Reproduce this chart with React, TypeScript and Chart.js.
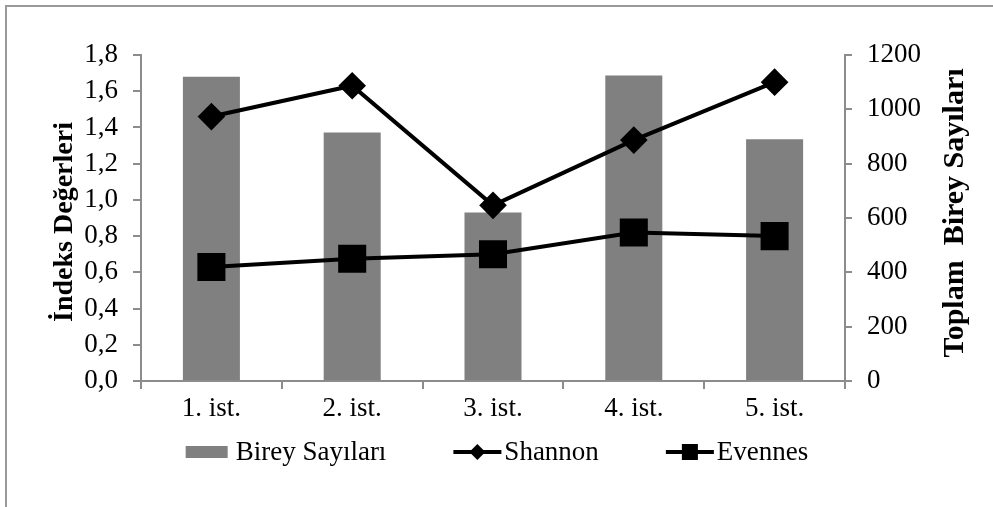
import React, { useEffect, useRef } from "react";
import { Chart, registerables } from "chart.js";

Chart.register(...registerables);

const categories = ["1. ist.", "2. ist.", "3. ist.", "4. ist.", "5. ist."];
const bireySayilari = [1120, 915, 620, 1125, 890];
const shannon = [1.46, 1.63, 0.97, 1.33, 1.65];
const evennes = [0.63, 0.675, 0.7, 0.82, 0.8];

const leftTitle = "İndeks Değerleri";
const rightTitle = "Toplam  Birey Sayıları";
const legendLabels = ["Birey Sayıları", "Shannon", "Evennes"];

const FONT = "'Liberation Serif', 'Times New Roman', serif";
const AXIS_COLOR = "#8c8c8c";
const BAR_COLOR = "#808080";

const titlesPlugin = {
  id: "axisTitles",
  afterDraw(chart: any) {
    const { ctx, chartArea } = chart;
    const cy = (chartArea.top + chartArea.bottom) / 2;
    ctx.save();
    ctx.fillStyle = "#000";
    ctx.font = `bold 28px ${FONT}`;
    ctx.textAlign = "center";
    ctx.textBaseline = "middle";
    ctx.translate(chartArea.left - 76, cy + 4);
    ctx.rotate(-Math.PI / 2);
    ctx.fillText(leftTitle, 0, 0);
    ctx.restore();

    ctx.save();
    ctx.fillStyle = "#000";
    ctx.font = `bold 30px ${FONT}`;
    ctx.textAlign = "center";
    ctx.textBaseline = "middle";
    ctx.translate(chartArea.right + 110, cy - 5);
    ctx.rotate(-Math.PI / 2);
    ctx.fillText(rightTitle, 0, 0);
    ctx.restore();
  },
};

const legendPlugin = {
  id: "customLegend",
  afterDraw(chart: any) {
    const { ctx, chartArea } = chart;
    const y = chartArea.bottom + 71;
    ctx.save();
    ctx.font = `27px ${FONT}`;
    ctx.textBaseline = "middle";
    ctx.textAlign = "left";
    const swatchW = [42, 48, 48];
    const textGap = [8, 3, 3];
    const itemGap = 67;
    const widths = legendLabels.map((l) => ctx.measureText(l).width);
    let total = 0;
    for (let i = 0; i < 3; i++) total += swatchW[i] + textGap[i] + widths[i];
    total += itemGap * 2;
    let x = (chartArea.left + chartArea.right) / 2 + 4 - total / 2;
    for (let i = 0; i < 3; i++) {
      if (i === 0) {
        ctx.fillStyle = BAR_COLOR;
        ctx.fillRect(x, y - 6, swatchW[i], 12);
      } else {
        ctx.strokeStyle = "#000";
        ctx.lineWidth = 4;
        ctx.beginPath();
        ctx.moveTo(x, y);
        ctx.lineTo(x + swatchW[i], y);
        ctx.stroke();
        ctx.fillStyle = "#000";
        const cx = x + swatchW[i] / 2;
        if (i === 1) {
          ctx.beginPath();
          ctx.moveTo(cx - 8, y);
          ctx.lineTo(cx, y - 8);
          ctx.lineTo(cx + 8, y);
          ctx.lineTo(cx, y + 8);
          ctx.closePath();
          ctx.fill();
        } else {
          ctx.fillRect(cx - 8, y - 8, 16, 16);
        }
      }
      x += swatchW[i] + textGap[i];
      ctx.fillStyle = "#000";
      ctx.fillText(legendLabels[i], x, y + 1);
      x += widths[i] + itemGap;
    }
    ctx.restore();
  },
};

export default function App() {
  const canvasRef = useRef<HTMLCanvasElement | null>(null);

  useEffect(() => {
    if (!canvasRef.current) return;
    const gridCommon = {
      drawOnChartArea: false,
      drawTicks: true,
      color: AXIS_COLOR,
      lineWidth: 2,
    };
    const chart = new Chart(canvasRef.current, {
      type: "bar",
      data: {
        labels: categories,
        datasets: [
          {
            type: "line",
            label: "Shannon",
            data: shannon,
            yAxisID: "y",
            borderColor: "#000",
            backgroundColor: "#000",
            borderWidth: 4,
            pointStyle: "rectRot",
            pointRadius: 11,
            pointBackgroundColor: "#000",
            pointBorderColor: "#000",
            order: 1,
            clip: false,
          } as any,
          {
            type: "line",
            label: "Evennes",
            data: evennes,
            yAxisID: "y",
            borderColor: "#000",
            backgroundColor: "#000",
            borderWidth: 4,
            pointStyle: "rect",
            pointRadius: 17,
            pointBackgroundColor: "#000",
            pointBorderColor: "#000",
            order: 0,
            clip: false,
          } as any,
          {
            type: "bar",
            label: "Birey Sayıları",
            data: bireySayilari,
            yAxisID: "y1",
            backgroundColor: BAR_COLOR,
            borderWidth: 0,
            categoryPercentage: 1,
            barPercentage: 0.405,
            order: 2,
          } as any,
        ],
      },
      options: {
        animation: false,
        responsive: false,
        maintainAspectRatio: false,
        layout: { padding: { top: 55, left: 0, right: 0, bottom: 0 } },
        plugins: {
          legend: { display: false },
          tooltip: { enabled: false },
        },
        scales: {
          x: {
            offset: true,
            grid: { ...gridCommon, offset: true, tickLength: 8 },
            border: { color: AXIS_COLOR, width: 2 },
            ticks: {
              color: "#000",
              font: { family: FONT, size: 27 },
              padding: 4,
              maxRotation: 0,
            },
            afterFit: (scale: any) => {
              scale.height = 126;
            },
          },
          y: {
            position: "left",
            min: 0,
            max: 1.8,
            grid: { ...gridCommon, tickLength: 8 },
            border: { color: AXIS_COLOR, width: 2 },
            ticks: {
              stepSize: 0.2,
              color: "#000",
              font: { family: FONT, size: 27 },
              padding: 15,
              callback: (v: any) => Number(v).toFixed(1).replace(".", ","),
            },
            afterFit: (scale: any) => {
              scale.width = 141;
            },
          },
          y1: {
            position: "right",
            min: 0,
            max: 1200,
            grid: { ...gridCommon, tickLength: 7 },
            border: { color: AXIS_COLOR, width: 2 },
            ticks: {
              stepSize: 200,
              color: "#000",
              font: { family: FONT, size: 27 },
              padding: 15,
              callback: (v: any) => String(Math.round(Number(v))),
            },
            afterFit: (scale: any) => {
              scale.width = 148;
            },
          },
        },
      },
      plugins: [titlesPlugin, legendPlugin],
    });
    return () => chart.destroy();
  }, []);

  return (
    <div style={{ position: "absolute", left: 0, top: 0, width: 993, height: 507, background: "#fff" }}>
      <div
        style={{
          position: "absolute",
          left: 5,
          top: 5,
          width: 988,
          height: 502,
          borderTop: "2px solid #9a9a9a",
          borderLeft: "2px solid #9a9a9a",
          boxSizing: "border-box",
        }}
      />
      <canvas
        ref={canvasRef}
        width={993}
        height={507}
        style={{ position: "absolute", left: 0, top: 0, width: 993, height: 507 }}
      />
    </div>
  );
}
